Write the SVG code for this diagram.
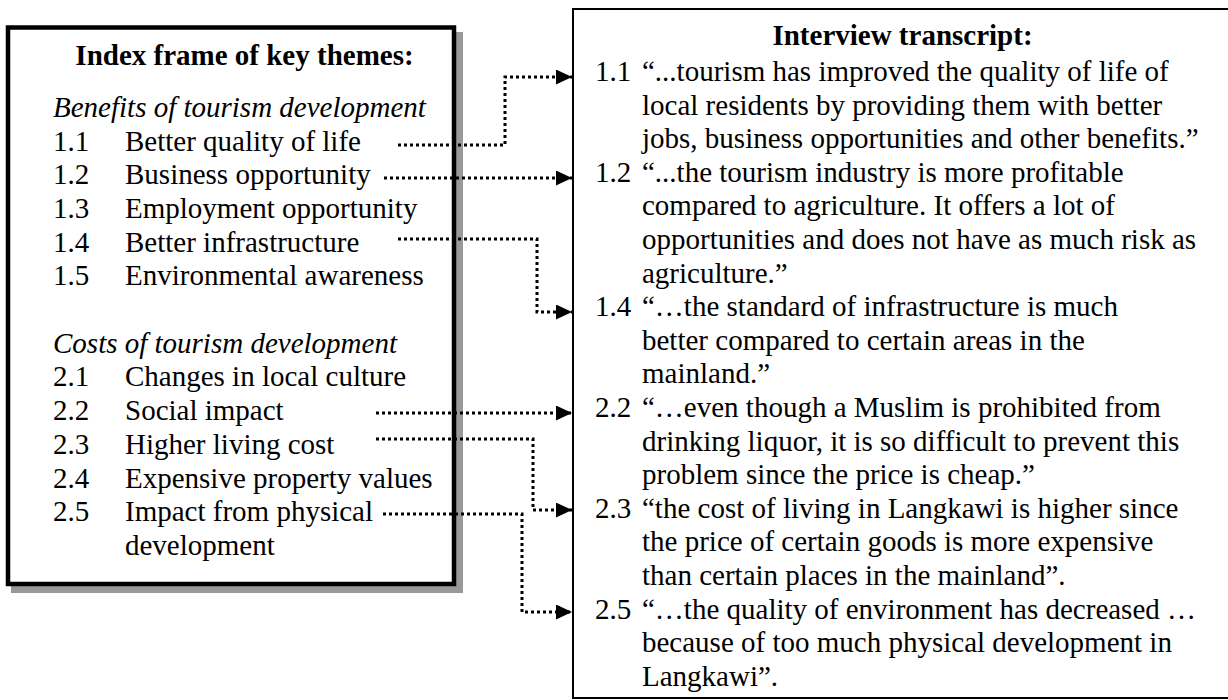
<svg xmlns="http://www.w3.org/2000/svg" width="1228" height="700" viewBox="0 0 1228 700">
<style>
text{font-family:"Liberation Serif","Times New Roman",serif;font-size:29px;fill:#000}
.b{font-weight:bold}
.i{font-style:italic}
.conn{fill:none;stroke:#000;stroke-width:3;stroke-dasharray:3 3}
</style>
<defs>
<marker id="ah" viewBox="0 0 16 15" refX="16" refY="7.5" markerWidth="16" markerHeight="15" markerUnits="userSpaceOnUse" orient="auto">
<path d="M0,0 L16,7.5 L0,15 z" fill="#000"/>
</marker>
</defs>
<rect width="1228" height="700" fill="#fff"/>
<g id="index-frame">
<rect x="11" y="32" width="452" height="561" fill="#999"/>
<rect x="8" y="27.5" width="446" height="556.5" fill="#fff" stroke="#000" stroke-width="4.5"/>
<text class="b" x="244.5" y="65" text-anchor="middle">Index frame of key themes:</text>
<text class="i" x="53" y="117">Benefits of tourism development</text>
<text x="53" y="150.5">1.1</text><text x="125" y="150.5">Better quality of life</text>
<text x="53" y="184.2">1.2</text><text x="125" y="184.2">Business opportunity</text>
<text x="53" y="217.9">1.3</text><text x="125" y="217.9">Employment opportunity</text>
<text x="53" y="251.6">1.4</text><text x="125" y="251.6">Better infrastructure</text>
<text x="53" y="285.3">1.5</text><text x="125" y="285.3">Environmental awareness</text>
<text class="i" x="53" y="352.7">Costs of tourism development</text>
<text x="53" y="386.4">2.1</text><text x="125" y="386.4">Changes in local culture</text>
<text x="53" y="420.1">2.2</text><text x="125" y="420.1">Social impact</text>
<text x="53" y="453.8">2.3</text><text x="125" y="453.8">Higher living cost</text>
<text x="53" y="487.5">2.4</text><text x="125" y="487.5">Expensive property values</text>
<text x="53" y="521.2">2.5</text><text x="125" y="521.2">Impact from physical</text>
<text x="125" y="554.9">development</text>
</g>
<g id="interview-transcript">
<rect x="573" y="9" width="660" height="689" fill="#fff" stroke="#000" stroke-width="2"/>
<text class="b" x="902.5" y="45" text-anchor="middle">Interview transcript:</text>
<text x="595" y="81">1.1</text>
<text x="642" y="81">“...tourism has improved the quality of life of</text>
<text x="642" y="114.6">local residents by providing them with better</text>
<text x="642" y="148.2">jobs, business opportunities and other benefits.”</text>
<text x="595" y="181.8">1.2</text>
<text x="642" y="181.8">“...the tourism industry is more profitable</text>
<text x="642" y="215.4">compared to agriculture. It offers a lot of</text>
<text x="642" y="249">opportunities and does not have as much risk as</text>
<text x="642" y="282.6">agriculture.”</text>
<text x="595" y="316.2">1.4</text>
<text x="642" y="316.2">“…the standard of infrastructure is much</text>
<text x="642" y="349.8">better compared to certain areas in the</text>
<text x="642" y="383.4">mainland.”</text>
<text x="595" y="417">2.2</text>
<text x="642" y="417">“…even though a Muslim is prohibited from</text>
<text x="642" y="450.6">drinking liquor, it is so difficult to prevent this</text>
<text x="642" y="484.2">problem since the price is cheap.”</text>
<text x="595" y="517.8">2.3</text>
<text x="642" y="517.8">“the cost of living in Langkawi is higher since</text>
<text x="642" y="551.4">the price of certain goods is more expensive</text>
<text x="642" y="585">than certain places in the mainland”.</text>
<text x="595" y="618.6">2.5</text>
<text x="642" y="618.6">“…the quality of environment has decreased …</text>
<text x="642" y="652.2">because of too much physical development in</text>
<text x="642" y="685.8">Langkawi”.</text>
</g>
<g id="connectors">
<path class="conn" d="M398,145 H505 V77 H572" marker-end="url(#ah)"/>
<path class="conn" d="M384,178 H572" marker-end="url(#ah)"/>
<path class="conn" d="M398,239 H537 V312 H572" marker-end="url(#ah)"/>
<path class="conn" d="M376,413 H572" marker-end="url(#ah)"/>
<path class="conn" d="M376,439 H533 V510 H572" marker-end="url(#ah)"/>
<path class="conn" d="M383,514 H522 V612 H572" marker-end="url(#ah)"/>
</g>
</svg>
